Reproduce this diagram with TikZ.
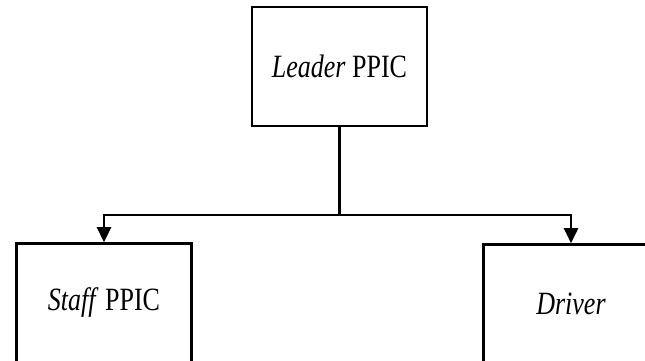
\documentclass[tikz,border=0pt]{standalone}
\usepackage{fontspec}
\setmainfont{Liberation Serif}
\usetikzlibrary{arrows.meta}
\newcommand{\sempit}[1]{\scalebox{0.8}[1]{#1}}%huruf dipersempit
\begin{document}
\begin{tikzpicture}[x=0.02cm,y=0.02cm,
  kotak/.style={draw,line width=1.5pt,minimum width=3.5cm,minimum height=2.38cm,
    font=\fontsize{18.5}{22}\selectfont},
  garis/.style={line width=1.5pt},
  panah/.style={-{Triangle[width=0.28cm,length=0.3cm]}}]
\useasboundingbox (0,0) rectangle (645,360);
\clip (0,0) rectangle (645,360);%bagian luar terpotong
\node[kotak] (leader) at (339.5,293.5) {\sempit{\textit{Leader} PPIC}};
\node[kotak] (staff) at (104,57) {\sempit{\textit{Staff} PPIC}};
\node[kotak] (driver) at (571,56) {\sempit{\textit{Driver}}};
\coordinate (cabang) at (339.5,145);%titik percabangan
\draw[garis] (leader.south) -- (cabang);
\draw[garis,panah] (cabang) -| (staff.north);
\draw[garis,panah] (cabang) -| (driver.north);
\end{tikzpicture}
\end{document}
